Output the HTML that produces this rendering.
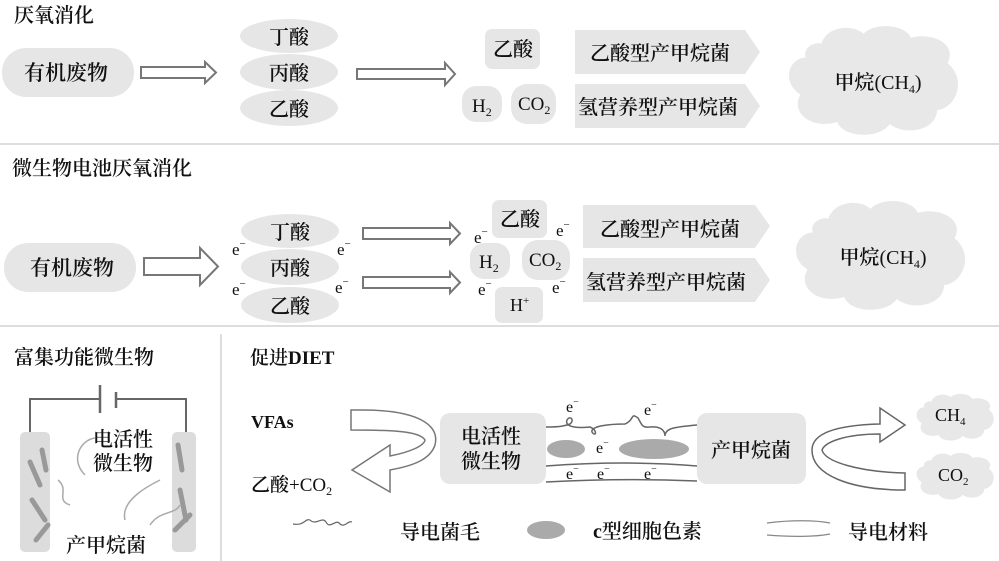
<!DOCTYPE html>
<html><head><meta charset="utf-8"><style>
html,body{margin:0;padding:0;background:#fff;}
svg{display:block;}
text{font-family:"Liberation Serif","Noto Serif CJK SC","Noto Sans CJK SC",serif;fill:#111;}
.c{font-family:"Noto Serif CJK SC","Noto Sans CJK SC",serif;font-weight:600;}
</style></head><body>
<svg width="999" height="561" viewBox="0 0 999 561" xmlns="http://www.w3.org/2000/svg">
<defs>
<g id="cloud">
<path d="M30,20 C35,2 60,0 70,10 C80,-2 110,0 115,14 C135,8 160,20 150,40 C168,55 160,85 140,88 C140,108 110,115 95,102 C85,118 50,116 45,100 C20,108 0,90 10,72 C-8,60 -2,35 15,34 C12,25 22,18 30,20 Z" fill="#e8e8e8"/>
</g>
</defs>

<!-- ===== TOP SECTION ===== -->
<text class="c" x="14" y="22" font-size="20">厌氧消化</text>
<rect x="2" y="48" width="132" height="49" rx="24" fill="#e6e6e6"/>
<text class="c" x="66" y="80" font-size="21" text-anchor="middle">有机废物</text>
<path d="M141,67 L205,67 L205,62 L216,72.5 L205,83 L205,78 L141,78 Z" fill="#fff" stroke="#777" stroke-width="2"/>
<ellipse cx="289" cy="36" rx="49" ry="17" fill="#e6e6e6"/>
<ellipse cx="289" cy="72" rx="49" ry="18" fill="#e6e6e6"/>
<ellipse cx="289" cy="108" rx="49" ry="18" fill="#e6e6e6"/>
<text class="c" x="289" y="44" font-size="20" text-anchor="middle">丁酸</text>
<text class="c" x="289" y="80" font-size="20" text-anchor="middle">丙酸</text>
<text class="c" x="289" y="116" font-size="20" text-anchor="middle">乙酸</text>
<path d="M357,69 L445,69 L445,63 L455,74 L445,85 L445,79 L357,79 Z" fill="#fff" stroke="#777" stroke-width="2"/>
<rect x="485" y="29" width="55" height="40" rx="7" fill="#e6e6e6"/>
<text class="c" x="513" y="56" font-size="20" text-anchor="middle">乙酸</text>
<rect x="462" y="86" width="40" height="36" rx="14" fill="#e6e6e6"/>
<rect x="511" y="84" width="45" height="40" rx="16" fill="#e6e6e6"/>
<text x="472" y="112" font-size="19">H<tspan font-size="12" dy="4">2</tspan></text>
<text x="518" y="110" font-size="19">CO<tspan font-size="12" dy="4">2</tspan></text>
<path d="M575,30 L745,30 L760,52 L745,74 L575,74 Z" fill="#e6e6e6"/>
<path d="M575,84 L745,84 L760,106 L745,128 L575,128 Z" fill="#e6e6e6"/>
<text class="c" x="590" y="60" font-size="20">乙酸型产甲烷菌</text>
<text class="c" x="578" y="114" font-size="20">氢营养型产甲烷菌</text>
<use href="#cloud" transform="translate(790,24) scale(1.05,0.98)"/>
<text x="878" y="89" font-size="20" text-anchor="middle"><tspan class="c">甲烷</tspan>(CH<tspan font-size="12" dy="4">4</tspan><tspan dy="-4">)</tspan></text>
<line x1="0" y1="144" x2="999" y2="144" stroke="#ddd" stroke-width="2"/>

<!-- ===== MIDDLE SECTION ===== -->
<text class="c" x="12" y="175" font-size="20">微生物电池厌氧消化</text>
<rect x="4" y="243" width="132" height="49" rx="24" fill="#e6e6e6"/>
<text class="c" x="72" y="275" font-size="21" text-anchor="middle">有机废物</text>
<path d="M144,258 L200,258 L200,248 L218,266.5 L200,285 L200,275 L144,275 Z" fill="#fff" stroke="#777" stroke-width="2"/>
<ellipse cx="290" cy="231" rx="49" ry="17" fill="#e6e6e6"/>
<ellipse cx="290" cy="267" rx="49" ry="18" fill="#e6e6e6"/>
<ellipse cx="290" cy="305" rx="49" ry="18" fill="#e6e6e6"/>
<text class="c" x="290" y="239" font-size="20" text-anchor="middle">丁酸</text>
<text class="c" x="290" y="275" font-size="20" text-anchor="middle">丙酸</text>
<text class="c" x="290" y="313" font-size="20" text-anchor="middle">乙酸</text>
<text x="232" y="255" font-size="17">e<tspan font-size="11" dy="-8">−</tspan></text>
<text x="232" y="295" font-size="17">e<tspan font-size="11" dy="-8">−</tspan></text>
<text x="337" y="255" font-size="17">e<tspan font-size="11" dy="-8">−</tspan></text>
<text x="335" y="293" font-size="17">e<tspan font-size="11" dy="-8">−</tspan></text>
<path d="M363,228 L450,228 L450,223 L460,233.5 L450,244 L450,239 L363,239 Z" fill="#fff" stroke="#777" stroke-width="2"/>
<path d="M363,277 L450,277 L450,272 L460,282.5 L450,293 L450,288 L363,288 Z" fill="#fff" stroke="#777" stroke-width="2"/>
<rect x="492" y="200" width="55" height="38" rx="7" fill="#e6e6e6"/>
<text class="c" x="520" y="226" font-size="20" text-anchor="middle">乙酸</text>
<text x="474" y="243" font-size="17">e<tspan font-size="11" dy="-8">−</tspan></text>
<text x="556" y="236" font-size="17">e<tspan font-size="11" dy="-8">−</tspan></text>
<rect x="470" y="243" width="40" height="36" rx="14" fill="#e6e6e6"/>
<rect x="522" y="240" width="48" height="40" rx="16" fill="#e6e6e6"/>
<text x="479" y="268" font-size="19">H<tspan font-size="12" dy="4">2</tspan></text>
<text x="529" y="266" font-size="19">CO<tspan font-size="12" dy="4">2</tspan></text>
<text x="478" y="295" font-size="17">e<tspan font-size="11" dy="-8">−</tspan></text>
<text x="552" y="293" font-size="17">e<tspan font-size="11" dy="-8">−</tspan></text>
<rect x="495" y="287" width="48" height="36" rx="7" fill="#e6e6e6"/>
<text x="510" y="311" font-size="18">H<tspan font-size="11" dy="-7">+</tspan></text>
<path d="M583,205 L755,205 L770,226 L755,248 L583,248 Z" fill="#e6e6e6"/>
<path d="M583,258 L755,258 L770,280 L755,302 L583,302 Z" fill="#e6e6e6"/>
<text class="c" x="600" y="236" font-size="20">乙酸型产甲烷菌</text>
<text class="c" x="586" y="289" font-size="20">氢营养型产甲烷菌</text>
<use href="#cloud" transform="translate(797,199) scale(1.05,0.98)"/>
<text x="883" y="264" font-size="20" text-anchor="middle"><tspan class="c">甲烷</tspan>(CH<tspan font-size="12" dy="4">4</tspan><tspan dy="-4">)</tspan></text>
<line x1="0" y1="326" x2="999" y2="326" stroke="#ddd" stroke-width="2"/>

<!-- ===== BOTTOM LEFT ===== -->
<line x1="221" y1="334" x2="221" y2="561" stroke="#ddd" stroke-width="2"/>
<text class="c" x="14" y="364" font-size="20">富集功能微生物</text>
<path d="M30,432 L30,399 L100,399 M116,399 L186,399 L186,432" fill="none" stroke="#666" stroke-width="2"/>
<line x1="100" y1="385" x2="100" y2="413" stroke="#666" stroke-width="2.5"/>
<line x1="116" y1="392" x2="116" y2="408" stroke="#666" stroke-width="2.5"/>
<rect x="20" y="432" width="30" height="120" rx="5" fill="#dcdcdc"/>
<rect x="172" y="432" width="24" height="120" rx="5" fill="#dcdcdc"/>
<g stroke="#999" stroke-width="5" stroke-linecap="round" fill="none">
<path d="M30,462 L40,485"/><path d="M42,450 L46,470"/><path d="M32,500 L45,520"/><path d="M36,540 L48,525"/>
<path d="M178,445 L182,470"/><path d="M180,490 L186,520"/><path d="M175,530 L190,515"/>
</g>
<g stroke="#aaa" stroke-width="1.5" fill="none">
<path d="M85,475 C70,460 80,440 95,438"/><path d="M58,480 C70,490 55,500 70,505"/>
<path d="M125,520 C120,500 150,485 160,480"/><path d="M150,525 C160,510 175,515 180,505"/>
</g>
<text class="c" x="123" y="446" font-size="20" text-anchor="middle">电活性</text>
<text class="c" x="123" y="470" font-size="20" text-anchor="middle">微生物</text>
<text class="c" x="106" y="552" font-size="20" text-anchor="middle">产甲烷菌</text>

<!-- ===== BOTTOM RIGHT ===== -->
<text class="c" x="250" y="364" font-size="19">促进<tspan font-family="Liberation Serif" font-weight="bold">DIET</tspan></text>
<text x="251" y="428" font-size="18" font-weight="bold">VFAs</text>
<text x="251" y="491" font-size="19"><tspan class="c">乙酸</tspan>+CO<tspan font-size="12" dy="4">2</tspan></text>
<path d="M351,410 L362,410 C418,410 440,425 435,445 C430,460 412,466 390,470 L390,492 L352,470 L390,445 L390,456 C410,452 424,446 425,440 C420,432 400,430 351,430 Z" fill="#fff" stroke="#777" stroke-width="1.5"/>
<rect x="440" y="413" width="106" height="71" rx="10" fill="#e6e6e6"/>
<text class="c" x="491" y="443" font-size="20" text-anchor="middle">电活性</text>
<text class="c" x="491" y="468" font-size="20" text-anchor="middle">微生物</text>
<rect x="697" y="413" width="109" height="71" rx="10" fill="#e6e6e6"/>
<text class="c" x="751" y="457" font-size="20" text-anchor="middle">产甲烷菌</text>
<path d="M546,427 C560,427 565,426 570,424 C575,420 570,415 567,420 C564,428 580,428 590,427 C598,430 596,438 592,432 C590,426 610,424 625,424 C635,420 630,412 638,418 C642,425 642,428 650,427 C660,426 665,430 665,436 C665,428 675,427 697,425" fill="none" stroke="#666" stroke-width="1.5"/>
<text x="566" y="412" font-size="16">e<tspan font-size="10" dy="-7">−</tspan></text>
<text x="644" y="415" font-size="16">e<tspan font-size="10" dy="-7">−</tspan></text>
<ellipse cx="566" cy="449" rx="19" ry="9" fill="#aaa"/>
<ellipse cx="654" cy="449" rx="35" ry="10" fill="#aaa"/>
<text x="596" y="453" font-size="16">e<tspan font-size="10" dy="-7">−</tspan></text>
<path d="M546,466 C600,462 650,462 697,466 M546,482 C600,479 650,479 697,481" fill="none" stroke="#666" stroke-width="1.5"/>
<text x="566" y="479" font-size="16">e<tspan font-size="10" dy="-7">−</tspan></text>
<text x="597" y="479" font-size="16">e<tspan font-size="10" dy="-7">−</tspan></text>
<text x="644" y="479" font-size="16">e<tspan font-size="10" dy="-7">−</tspan></text>
<path d="M905,490 C850,490 812,475 812,450 C812,432 840,425 880,424 L880,408 L905,425 L880,442 L880,434 C845,434 825,442 822,450 C825,462 860,472 905,473 Z" fill="#fff" stroke="#666" stroke-width="1.5"/>
<use href="#cloud" transform="translate(917,393) scale(0.48,0.42)"/>
<use href="#cloud" transform="translate(917,452) scale(0.48,0.42)"/>
<text x="935" y="421" font-size="18">CH<tspan font-size="11" dy="4">4</tspan></text>
<text x="938" y="481" font-size="18">CO<tspan font-size="11" dy="4">2</tspan></text>
<path d="M293,524 C305,526 305,518 310,520 C316,526 322,516 326,522 C330,530 336,518 340,524 C345,528 348,520 352,522" fill="none" stroke="#666" stroke-width="1.2"/>
<text class="c" x="400" y="539" font-size="20">导电菌毛</text>
<ellipse cx="546" cy="530" rx="19" ry="9" fill="#aaa"/>
<text x="593" y="538" font-size="20" font-weight="bold">c<tspan class="c">型细胞色素</tspan></text>
<path d="M767,523 C790,520 815,520 830,523 M767,535 C790,537 815,537 830,534" fill="none" stroke="#888" stroke-width="1.2"/>
<text class="c" x="848" y="539" font-size="20">导电材料</text>
</svg>
</body></html>
